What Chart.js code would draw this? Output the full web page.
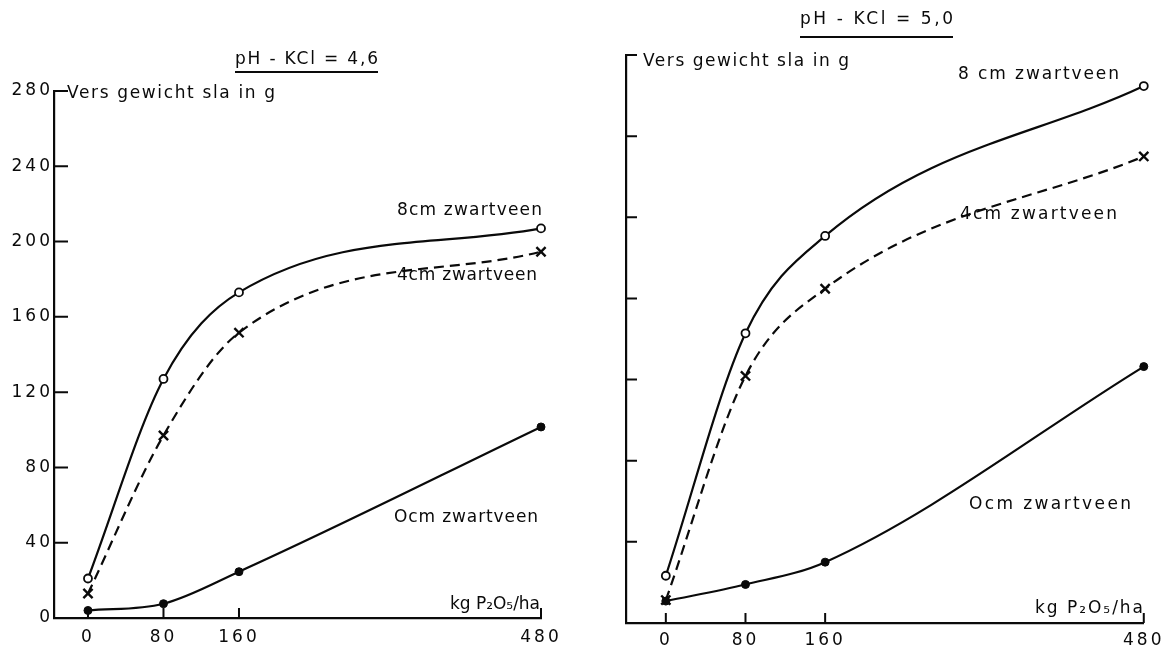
<!DOCTYPE html>
<html>
<head>
<meta charset="utf-8">
<script src="https://cdn.jsdelivr.net/npm/chart.js@4.4.1/dist/chart.umd.min.js"></script>
<style>
  body { margin: 0; background: #fff; }
  #wrap { position: relative; width: 1167px; height: 648px; }
  canvas { position: absolute; top: 0; }
</style>
</head>
<body>
<div id="wrap">
  <canvas id="leftChart" width="590" height="648" style="left:0"></canvas>
  <canvas id="rightChart" width="577" height="648" style="left:590px"></canvas>
</div>
<script>
// kg P2O5/ha
const doses = [0, 80, 160, 480];
const yTicks = [0, 40, 80, 120, 160, 200, 240, 280];

// pH-KCl = 4,6
const left0cm = [4, 7.6, 24.6, 101.5];
const left4cm = [13, 97, 151.6, 194.6];
const left8cm = [21, 127, 173, 207];

// pH-KCl = 5,0
const right0cm = [10.8, 19, 30, 126.4];
const right4cm = [11.3, 121.8, 164.8, 230];
const right8cm = [23.3, 142.8, 190.8, 264.7];

const ink = "#0a0a0a";
const font = "DejaVu Sans";

function toPoints(values) {
    return doses.map((d, i) => ({ x: d, y: values[i] }));
}

// text squeezed/stretched between two x positions
function fitText(ctx, text, x0, x1, y) {
    ctx.letterSpacing = "0px";
    const w = ctx.measureText(text).width;
    const n = [...text].length;
    ctx.letterSpacing = ((x1 - x0 - w) / (n - 1)) + "px";
    ctx.textAlign = "left";
    ctx.textBaseline = "middle";
    ctx.fillText(text, x0, y);
}

// tick marks point into the plot, like the drawing
const inwardTicks = {
    id: "inwardTicks",
    beforeDraw(chart) {
        chart.ctx.letterSpacing = "3px";
    },
    afterDraw(chart, args, opts) {
        const { ctx, chartArea, scales } = chart;
        ctx.save();
        ctx.strokeStyle = ink;
        ctx.lineWidth = 2;
        ctx.beginPath();
        scales.y.ticks.forEach((t) => {
            const py = scales.y.getPixelForValue(t.value);
            ctx.moveTo(chartArea.left, py);
            ctx.lineTo(chartArea.left + opts.yLen, py);
        });
        scales.x.ticks.forEach((t) => {
            const px = scales.x.getPixelForValue(t.value);
            ctx.moveTo(px, chartArea.bottom);
            ctx.lineTo(px, chartArea.bottom - opts.xLen);
        });
        ctx.stroke();
        ctx.restore();
    }
};

const textLabels = {
    id: "textLabels",
    afterDraw(chart, args, opts) {
        const ctx = chart.ctx;
        const off = opts.offset;
        ctx.save();
        ctx.fillStyle = ink;
        ctx.strokeStyle = ink;
        ctx.font = "17px '" + font + "'";
        opts.items.forEach((it) => {
            fitText(ctx, it.text, it.x0 - off, it.x1 - off, it.y);
            if (it.underline) {
                ctx.lineWidth = 2;
                ctx.beginPath();
                ctx.moveTo(it.x0 - off, it.underline);
                ctx.lineTo(it.x1 - off, it.underline);
                ctx.stroke();
            }
        });
        ctx.restore();
    }
};

function makeDatasets(zero, four, eight) {
    return [
        {
            label: "4cm zwartveen",
            data: toPoints(four),
            borderColor: ink,
            borderWidth: 2.2,
            borderDash: [10, 6],
            pointStyle: "crossRot",
            pointRadius: 6.5,
            pointBorderWidth: 2.4,
            pointBorderColor: ink,
            cubicInterpolationMode: "monotone",
            clip: false
        },
        {
            label: "8cm zwartveen",
            data: toPoints(eight),
            borderColor: ink,
            borderWidth: 2.2,
            pointStyle: "circle",
            pointRadius: 4,
            pointBorderWidth: 1.8,
            pointBorderColor: ink,
            pointBackgroundColor: "#fff",
            cubicInterpolationMode: "monotone",
            clip: false
        },
        {
            label: "0cm zwartveen",
            data: toPoints(zero),
            borderColor: ink,
            borderWidth: 2.2,
            pointStyle: "circle",
            pointRadius: 4,
            pointBorderWidth: 1,
            pointBorderColor: ink,
            pointBackgroundColor: ink,
            cubicInterpolationMode: "monotone",
            clip: false
        }
    ];
}

function makeOptions(cfg) {
    return {
        responsive: false,
        animation: false,
        layout: { padding: { top: cfg.top, right: cfg.right, left: 0, bottom: 0 } },
        plugins: {
            legend: { display: false },
            tooltip: { enabled: false },
            inwardTicks: { yLen: cfg.yLen, xLen: 10 },
            textLabels: { offset: cfg.offset, items: cfg.items }
        },
        scales: {
            x: {
                type: "linear",
                min: cfg.xMin,
                max: 480,
                afterBuildTicks: (s) => { s.ticks = doses.map((v) => ({ value: v })); },
                afterFit: (s) => { s.height = cfg.xHeight; },
                grid: { display: false, drawTicks: false },
                border: { display: true, color: ink, width: 2.2 },
                ticks: { padding: cfg.xPad, color: ink, font: { family: font, size: 17 } }
            },
            y: {
                min: 0,
                max: 280,
                afterBuildTicks: (s) => { s.ticks = yTicks.map((v) => ({ value: v })); },
                afterFit: (s) => { s.width = cfg.yWidth; },
                grid: { display: false, drawTicks: false },
                border: { display: true, color: ink, width: 2.2 },
                ticks: { display: cfg.yLabels, padding: 1, color: ink, font: { family: font, size: 17 } }
            }
        }
    };
}

new Chart(document.getElementById("leftChart"), {
    type: "line",
    data: { datasets: makeDatasets(left0cm, left4cm, left8cm) },
    options: makeOptions({
        top: 91, right: 49, xMin: -36, xHeight: 30, xPad: 9, yWidth: 54, yLabels: true, yLen: 14, offset: 0,
        items: [
            { text: "pH - KCl = 4,6", x0: 235, x1: 378, y: 60, underline: 72 },
            { text: "Vers gewicht sla in g", x0: 67, x1: 275, y: 94 },
            { text: "8cm zwartveen", x0: 397, x1: 542, y: 211 },
            { text: "4cm zwartveen", x0: 397, x1: 537, y: 276 },
            { text: "Ocm zwartveen", x0: 394, x1: 538, y: 518 },
            { text: "kg P\u2082O\u2085/ha", x0: 450, x1: 540, y: 605 }
        ]
    }),
    plugins: [inwardTicks, textLabels]
});

new Chart(document.getElementById("rightChart"), {
    type: "line",
    data: { datasets: makeDatasets(right0cm, right4cm, right8cm) },
    options: makeOptions({
        top: 55, right: 20, xMin: -40, xHeight: 25, xPad: 7, yWidth: 36, yLabels: false, yLen: 11, offset: 590,
        items: [
            { text: "pH - KCl = 5,0", x0: 800, x1: 953, y: 20, underline: 37 },
            { text: "Vers gewicht sla in g", x0: 643, x1: 849, y: 62 },
            { text: "8 cm zwartveen", x0: 958, x1: 1119, y: 75 },
            { text: "4cm zwartveen", x0: 960, x1: 1117, y: 215 },
            { text: "Ocm zwartveen", x0: 969, x1: 1131, y: 505 },
            { text: "kg P\u2082O\u2085/ha", x0: 1035, x1: 1143, y: 609 }
        ]
    }),
    plugins: [inwardTicks, textLabels]
});
</script>
</body>
</html>
